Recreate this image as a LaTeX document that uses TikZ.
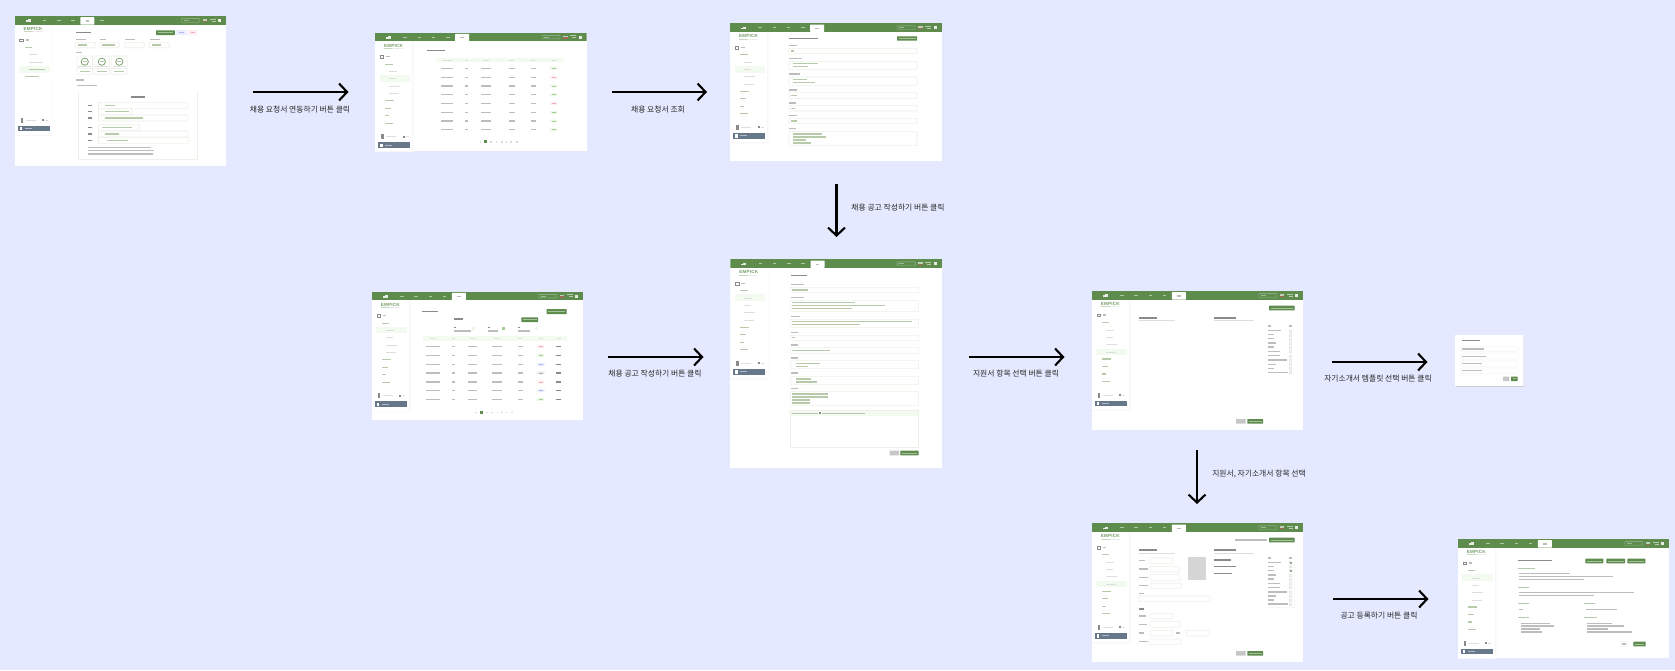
\documentclass[tikz,border=0pt]{standalone}
\usepackage{fontspec}
\setmainfont{Noto Sans CJK KR}
\newfontfamily\logofont[LetterSpace=5]{Liberation Sans}
\usetikzlibrary{arrows.meta}
\definecolor{pagebg}{HTML}{E5E9FF}
\definecolor{hdrgreen}{HTML}{5E8C4D}
\definecolor{txtgrey}{HTML}{BDBDBD}
\definecolor{txtdark}{HTML}{8A8A8A}
\definecolor{txtgreen}{HTML}{B7CBAB}
\definecolor{fieldline}{HTML}{EDF0E6}
\definecolor{activebg}{HTML}{F3FBF0}
\definecolor{darkbtn}{HTML}{66788A}
\definecolor{okfill}{HTML}{EAF9E6}\definecolor{oktxt}{HTML}{A3CF97}
\definecolor{pkfill}{HTML}{FFEDF0}\definecolor{pktxt}{HTML}{F0B0B9}
\definecolor{blfill}{HTML}{ECEEFF}\definecolor{bltxt}{HTML}{B0B6E8}
\definecolor{gyfill}{HTML}{EBEBEB}\definecolor{gytxt}{HTML}{ABABAB}
\tikzset{
  screenbox/.style={fill=white,draw=none,inner sep=0pt,outer sep=0pt,anchor=north west},
  fieldbox/.style={draw=fieldline,line width=0.6pt,fill=white,rounded corners=0.8pt},
  greenbtn/.style={fill=hdrgreen,draw=none,rounded corners=0.4pt},
  greybtn/.style={fill=black!22,draw=none,rounded corners=0.4pt},
  flowarrow/.style={draw=black,line width=2.1pt,-{Straight Barb[length=8pt,width=17pt,line width=2.1pt]}},
  flowlabel/.style={font=\fontsize{7.8pt}{9pt}\selectfont,text=black!85,inner sep=0pt},
}
\newif\ifshortmenu
% text stand-ins: illegibly small interface text is shown as thin strokes
\newcommand{\tb}[3]{\fill[txtgrey] (#1,#2-0.55) rectangle (#3,#2+0.55);}
\newcommand{\td}[3]{\fill[txtdark] (#1,#2-0.7) rectangle (#3,#2+0.7);}
\newcommand{\tg}[3]{\fill[txtgreen] (#1,#2-0.55) rectangle (#3,#2+0.55);}
\newcommand{\tl}[3]{\fill[black!13] (#1,#2-0.5) rectangle (#3,#2+0.5);}
\newcommand{\field}[4]{\draw[fieldbox] (#1,#2) rectangle (#3,#4);}
\newcommand{\gbtn}[4]{\fill[greenbtn] (#1,#2) rectangle (#3,#4);\fill[white,opacity=.45] (#1+1.5,0.5*#2+0.5*#4-0.4) rectangle (#3-1.5,0.5*#2+0.5*#4+0.4);}
\newcommand{\gybtn}[4]{\fill[greybtn] (#1,#2) rectangle (#3,#4);}
\newcommand{\pill}[4]{\fill[#3,rounded corners=0.5pt] (#1-3.8,#2-1.4) rectangle (#1+3.8,#2+1.4);\fill[#4] (#1-2,#2-0.5) rectangle (#1+2,#2+0.5);}
\newcommand{\cell}[3]{\fill[txtgrey] (#1-#3,#2-0.6) rectangle (#1+#3,#2+0.6);}
\newcommand{\pager}[2]{%
  \foreach \px in {#2}{\fill[black!15] (\px-0.8,#1-0.8) rectangle (\px+0.8,#1+0.8);}}
% #1 name #2 x #3 y #4 w #5 h #6 active tab #7 active row y #8 content
\newcommand{\appscreen}[8]{%
  \node[screenbox,minimum width=#4pt,minimum height=#5pt] (#1) at (#2,#3) {};
  \begin{scope}[shift={(#2,#3)}]
    \clip (0,0) rectangle (#4,#5);
    \pgfmathsetmacro{\sbh}{min(119,#5)}
    \fill[black!1.5] (0,8.5) rectangle (38.8,\sbh+1.2);
    \fill[black!3] (0,8.5) rectangle (37.9,\sbh+0.5);
    \fill[white] (0,8.5) rectangle (37.2,\sbh);
    \fill[hdrgreen] (0,0) rectangle (#4,8.5);
    \fill[white,opacity=.85] (11,3.2) rectangle (16,5.8);
    \fill[hdrgreen] (11,3.2) rectangle (13,4.4);
    \foreach \i in {1,...,5}{
      \pgfmathsetmacro{\tx}{30+(\i-1)*14.3}
      \fill[white,opacity=.5] (\tx-1.8,3.9) rectangle (\tx+1.8,5);
    }
    \pgfmathsetmacro{\atx}{30+(#6-1)*14.3}
    \fill[white,rounded corners=0.5pt] (\atx-7,1.2) rectangle (\atx+7,8.6);
    \fill[txtgrey] (\atx-1.8,4.4) rectangle (\atx+1.8,5.5);
    \draw[white,opacity=.4,line width=.4pt,rounded corners=.5pt] (167,2.6) rectangle (185,6.2);
    \fill[white,opacity=.4] (169,3.9) rectangle (174,4.9);
    \fill[white,opacity=.6] (188,3) rectangle (192.5,6);
    \fill[red!55!black,opacity=.5] (188,4.5) rectangle (192.5,6);
    \fill[white,opacity=.55] (195,2.6) rectangle (201,3.6);
    \fill[white,opacity=.55] (197,4.6) rectangle (201,5.6);
    \fill[white,opacity=.85] (203.5,2.8) rectangle (206.5,5.8);
    \node[font=\logofont\bfseries\fontsize{4.5pt}{5pt}\selectfont,text=hdrgreen!85,inner sep=0pt] (#1logo) at (18.5,12.8) {EMPICK};
    \fill[hdrgreen!35] (9,15.4) rectangle (18,16.1);
    \fill[black!8] (18.5,15.4) rectangle (28,16.1);
    \fill[activebg] (4.5,#7-3.4) rectangle (35,#7+3.4);
    \draw[txtdark,line width=.4pt] (5,22.8) rectangle (8.4,25.4);
    \tb{11}{24}{14.5}
    \ifshortmenu
      \tg{10}{31.3}{17.5}
      \tl{14}{38.7}{22}\tl{14}{46}{28}
      \tg{14}{53.3}{30}
      \tg{10}{60.7}{24}
    \else
      \tg{10}{31.5}{17.5}
      \foreach \y/\e in {39/22,46/21,53.5/25,61/24}{\tl{14}{\y}{\e}}
      \foreach \y/\e in {68/19,75.5/16,83/14,90.5/18}{\tg{10}{\y}{\e}}
    \fi
    \fill[txtdark] (6,101.5) rectangle (8.5,106.5);
    \tl{11}{104}{21}
    \fill[txtdark] (27.5,103) rectangle (29.5,105);
    \tl{30.5}{104}{33.5}
    \fill[darkbtn] (3,109.6) rectangle (35,115.4);
    \fill[white] (5,110.8) rectangle (7.5,114.2);
    \fill[white,opacity=.5] (10,112) rectangle (17,113);
    #8
  \end{scope}
}
\begin{document}
\begin{tikzpicture}[x=1pt,y=-1pt]
\useasboundingbox (0,0) rectangle (1675,670);
\fill[pagebg] (0,0) rectangle (1675,670);

%------- screen 1
\shortmenutrue
\appscreen{sa}{14.5}{16}{211.5}{150}{4}{53.4}{
  \td{61}{16.3}{76}
  \gbtn{141.7}{14.3}{160.3}{19}
  \fill[blfill] (161.3,14.3) rectangle (172,19); \fill[bltxt] (164,16.2) rectangle (169,17.1);
  \fill[pkfill] (173.3,14.3) rectangle (182.7,19); \fill[pktxt] (176,16.2) rectangle (180,17.1);
  \tb{61}{23.7}{71}\tb{85.3}{23.7}{91}\tb{110.3}{23.7}{120}\tb{135}{23.7}{145}
  \field{60.7}{26.3}{80.7}{31.7}\field{85.3}{26.3}{104.7}{31.7}\field{110.3}{26.3}{129.7}{31.7}\field{134.7}{26.3}{154.7}{31.7}
  \tg{63}{29}{72}\tg{87.5}{29}{100}\tg{137}{29}{146}
  \tb{61}{36.7}{67}
  \foreach \cx in {70.3,87.3,104.8}{
    \draw[fieldbox] (\cx-7.7,40) rectangle (\cx+7.7,58.3);
    \draw[fieldline] (\cx-7.7,52.4) -- (\cx+7.7,52.4);
    \draw[hdrgreen!80,line width=.8pt] (\cx,45.7) circle (3.6);
    \tg{\cx-2}{45.7}{\cx+2}
    \tl{\cx-6.5}{50.8}{\cx+6.5}
    \tg{\cx-5}{55.5}{\cx+5}
  }
  \tb{61}{64}{69}
  \tb{62}{69.7}{82}
  \draw[fieldline,line width=.8pt] (64,76) -- (64,143.3) -- (182.7,143.3) -- (182.7,76);
  \td{116.5}{81}{130.5}
  \foreach \y/\e in {89.3/173.3,95.7/117,102/173.3,111.7/124.7,118/173.3,124.3/174.3}{
    \field{84}{\y-3}{\e}{\y+3}
    \td{73}{\y}{77}
  }
  \tg{90}{89.3}{100}\tg{90}{95.7}{114}\tg{90}{102}{128}\tg{87}{111.7}{117}\tg{90}{118}{104}\tg{92}{124.3}{113}
  \tb{73}{131.7}{136}\tb{73}{134.7}{139}\tb{73}{138}{138}
}
\shortmenufalse
%------- screen 2
\appscreen{sb}{375}{32.7}{211.7}{118.6}{5}{46}{
  \td{51.7}{18}{70}
  \fill[activebg] (60.7,25) rectangle (189,29.7);
  \foreach \cx/\wd in {71.7/5,91.7/1.5,110.7/3,136.7/2.5,158.3/2,178.7/2}{\tl{\cx-\wd}{27.3}{\cx+\wd}}
  \foreach \y/\c/\d in {35.7/okfill/oktxt,44.7/pkfill/pktxt,53.3/okfill/oktxt,62/okfill/oktxt,70.7/pkfill/pktxt,79.7/okfill/oktxt,88.3/okfill/oktxt,97/okfill/oktxt}{
    \cell{71.7}{\y}{6}\cell{91.7}{\y}{1.3}\cell{110.7}{\y}{5}\cell{136.7}{\y}{2.8}\cell{158.3}{\y}{2.4}
    \pill{178.7}{\y}{\c}{\d}
  }
  \pager{109}{105.3,116,121.3,126.7,131.3,136,141.7}
  \fill[hdrgreen] (109.2,107.4) rectangle (112.2,110.6);
}
%------- screen 3
\appscreen{sc}{730}{23.3}{212}{137.4}{5}{46}{
  \td{59}{15}{88}
  \gbtn{167}{13}{187}{17.3}
  \foreach \y/\e in {22/67,35/72,50.7/70,66.7/67,79.7/66,92.3/67,105/66}{\tb{59}{\y}{\e}}
  \field{59}{25}{187}{30.3}\field{59}{38}{187}{46.3}\field{59}{53.7}{187}{62}\field{59}{69.3}{187}{75}\field{59}{82}{187}{87.7}\field{59}{95}{187}{100.3}\field{59}{108}{187}{122.3}
  \tg{61}{27.7}{64}
  \tg{63}{40.3}{88}\tg{63}{43.3}{78}
  \tg{63}{56.3}{77}\tg{63}{59}{85}
  \tg{61}{72.2}{67}\tg{61}{84.8}{65}\tg{61}{97.7}{67}
  \tg{63}{110.7}{92}\tg{63}{113.7}{96}\tg{63}{116.7}{76}\tg{63}{119.7}{81}
}
%------- screen 4
\appscreen{sd}{371.7}{291.7}{211.3}{128.3}{5}{38.3}{
  \td{50}{19.7}{66.7}
  \gbtn{175}{17.3}{195}{22.3}
  \td{82.7}{27.3}{91.7}
  \gbtn{149.7}{25.7}{166.3}{30.3}
  \foreach \xa/\xb/\xc/\ic in {82.7/99/101.7/okfill,116/126/131.7/oktxt,146.3/158/164.3/okfill}{
    \td{\xa}{35.7}{\xa+2}
    \tb{\xa}{39.3}{\xb}
    \fill[\ic] (\xc-1.5,35.2) rectangle (\xc+1.5,38.2);
  }
  \fill[activebg] (51,44.3) rectangle (195.7,49);
  \foreach \cx/\wd in {61.7/3,81.7/1.5,101/3,125/3,148.7/2,169/2,187/2}{\tl{\cx-\wd}{46.7}{\cx+\wd}}
  \foreach \y/\c/\d in {55/pkfill/pktxt,63.7/okfill/oktxt,72.7/blfill/bltxt,81.3/gyfill/gytxt,90.3/pkfill/pktxt,99/blfill/bltxt,107.7/okfill/oktxt}{
    \cell{61.7}{\y}{7}\cell{81.7}{\y}{1.4}\cell{101}{\y}{4.5}\cell{125}{\y}{5}\cell{148.7}{\y}{2.8}
    \pill{169}{\y}{\c}{\d}
    \fill[txtdark] (184.5,\y-0.6) rectangle (189.5,\y+0.6);
  }
  \pager{120.7}{104,115,120.3,125.7,130,134.7,140.3}
  \fill[hdrgreen] (108.2,119.1) rectangle (111.2,122.3);
}
%------- screen 5
\appscreen{se}{730.3}{259.3}{211.7}{208.4}{5}{38.5}{
  \td{60.3}{16}{76.3}
  \foreach \y/\e in {25/74,38/74,57/70,73/68,85.7/68,98.7/68,113.7/68,129.3/68}{\tb{60.3}{\y}{\e}}
  \field{60.3}{28}{188.3}{33.3}\field{60.3}{41}{188.3}{52.3}\field{60.3}{60}{188.3}{68}\field{60.3}{76}{188.3}{81.3}\field{60.3}{88.3}{188.3}{94}\field{60.3}{101}{188.3}{109.3}\field{60.3}{117}{188.3}{125.3}\field{60.3}{132}{188.3}{146.3}
  \tg{62}{30.7}{78}
  \tg{62}{43.3}{125}\tg{62}{46.3}{155}\tg{62}{49.3}{122}
  \tg{62}{62.3}{182}\tg{62}{65.3}{130}
  \tg{62}{78.6}{65}\tg{62}{91.2}{100}
  \tg{66}{104}{90}\tg{66}{107}{78}
  \tg{66}{119.7}{81}\tg{66}{122.7}{87}
  \tg{62}{134.7}{98}\tg{62}{137.7}{98}\tg{62}{140.7}{80}\tg{62}{143.7}{80}
  \draw[fieldbox,rounded corners=0pt] (60.3,151) rectangle (188.3,188.3);
  \fill[activebg] (60.6,151.3) rectangle (188,156.3);
  \tb{61.5}{153.8}{88}\td{89}{153.8}{91}\tb{92}{153.8}{135}
  \gybtn{159.3}{191.3}{168.7}{196}
  \gbtn{170}{191.3}{188.3}{196}
}
%------- screen 6
\appscreen{sf}{1091.7}{291}{211.3}{138.7}{5}{61}{
  \gbtn{177.3}{14.7}{203}{19.3}
  \td{47.3}{27}{65.3}\tl{47.3}{29.7}{83}
  \td{122.3}{27}{144.3}\tl{122.3}{29.7}{162}
  \tb{176.3}{35}{179.3}\tb{197.3}{35}{200.7}
  \foreach \y/\e in {39.7/189,43.7/182,47.7/182,52/184,56/182,60.3/188,64.7/188,69/195,73.3/184,77.3/182,81.3/196}{
    \tb{176.3}{\y}{\e}
    \draw[black!10,line width=.4pt] (197.8,\y-1) rectangle (199.8,\y+1);
  }
  \gybtn{144.3}{128}{154}{132.7}
  \gbtn{155.7}{128}{171.3}{132.7}
}
%------- screen 7
\appscreen{sg}{1091.7}{523.3}{211.3}{138.7}{5}{60.7}{
  \tb{143.3}{16.7}{175}
  \gbtn{177.3}{14.3}{203}{19}
  \td{47.3}{26.7}{65.3}\tl{47.3}{29.7}{83}
  \td{122.3}{26.7}{144.3}\tl{122.3}{29.7}{162}
  \field{58.3}{34.7}{81}{40.3}\tb{47.3}{37.3}{53}
  \field{58.3}{43}{88}{48.7}\tb{47.3}{45.7}{56}
  \field{58.3}{51.3}{88}{57}\tb{47.3}{54}{56}
  \field{58.3}{59.7}{90}{65.3}\tb{47.3}{62.3}{56}
  \tb{47.3}{70}{52}
  \field{47.3}{72.7}{118.3}{78.3}
  \fill[black!16] (96.7,34) rectangle (114,57);
  \td{47.3}{85.7}{52.5}
  \tb{47.3}{92.7}{54}\field{58.3}{90}{81}{95.7}
  \tb{47.3}{101}{55}\field{58.3}{98.3}{88}{104}
  \tb{47.3}{109.7}{52}\field{58.3}{107}{81}{112.7}\tb{84}{109.7}{88}\field{94.7}{107}{117.7}{112.7}
  \tb{47.3}{118.3}{56}\field{57.7}{115.7}{89}{121.3}
  \td{122.3}{36.7}{139.3}\td{122.3}{43.3}{144}\td{122.3}{50}{140}
  \fill[black!3] (175,31.7) rectangle (203.3,84.8);
  \fill[white] (175.4,32) rectangle (202.7,84);
  \tb{176.3}{34.7}{179.3}\tb{197.3}{34.7}{200.7}
  \foreach \y/\e in {39.3/189,43.3/182,47.3/182,51.7/184,55.7/182,60/188,64.3/188,68.7/195,72.7/184,76.7/182,80.7/196}{
    \tb{176.3}{\y}{\e}
    \draw[black!10,line width=.4pt] (197.8,\y-1) rectangle (199.8,\y+1);
  }
  \fill[hdrgreen!70] (197.8,38.3) rectangle (199.8,40.3);
  \fill[hdrgreen!70] (197.8,46.3) rectangle (199.8,48.3);
  \gybtn{144.3}{127.7}{154}{132.3}
  \gbtn{155.7}{127.7}{171.3}{132.3}
}
%------- screen 8
\appscreen{sh}{1457.7}{539}{211.3}{119}{5}{38.3}{
  \td{60}{21.7}{94}
  \gbtn{127.7}{19.7}{145.7}{24.3}\gbtn{148.7}{19.7}{167.3}{24.3}\gbtn{169.7}{19.7}{187.7}{24.3}
  \tg{60.5}{29.3}{77}
  \tb{61}{34.3}{112}\tb{61}{37.3}{155}\tb{61}{40.3}{126}
  \tg{60.5}{48.3}{71}
  \tb{61}{53.7}{176}\tb{61}{56.7}{136}
  \tg{60.5}{64.3}{71}\tg{126.3}{64.3}{137}
  \tb{61}{70.3}{65}\tb{128}{70.3}{159}
  \tg{60.5}{78.3}{71}\tg{126.3}{78.3}{139}
  \tb{63.5}{84.3}{92}\tb{63.5}{87}{96}\tb{63.5}{90}{82}\tb{63.5}{93}{84}
  \tb{129.5}{84.3}{154}\tb{129.5}{87}{166}\tb{129.5}{90}{150}\tb{129.5}{93}{174}
  \draw[fieldbox] (162.3,102.7) rectangle (170,107.3);\tb{164.5}{105}{168}
  \gbtn{175.7}{102.7}{188}{107.3}
}
%------- modal
\fill[black!22] (1455.6,336) rectangle (1524.3,387);
\node[screenbox,minimum width=68.7pt,minimum height=51pt,rounded corners=.6pt] (modal) at (1455,335) {};
\td{1462.3}{340.7}{1480.3}
\foreach \y/\e in {349/1484,356.3/1486,363.7/1482,370.7/1482}{
  \draw[fieldbox,draw=black!4,rounded corners=1.5pt] (1460.3,\y-2.7) rectangle (1518.3,\y+2.7);
  \tb{1462}{\y}{\e}
}
\gybtn{1503}{376.7}{1509.3}{381}
\gbtn{1511}{376.7}{1517.7}{381}

%------- connectors
\coordinate (a1s) at (253,92);\coordinate (a1e) at (348.5,92);
\coordinate (a2s) at (611.7,92);\coordinate (a2e) at (707,92);
\coordinate (a3s) at (836.5,184);\coordinate (a3e) at (836.5,237);
\coordinate (a4s) at (608,357);\coordinate (a4e) at (703.5,357);
\coordinate (a5s) at (969,357);\coordinate (a5e) at (1064.5,357);
\coordinate (a6s) at (1332,362);\coordinate (a6e) at (1427.5,362);
\coordinate (a7s) at (1197,450);\coordinate (a7e) at (1197,504);
\coordinate (a8s) at (1333,599);\coordinate (a8e) at (1428.5,599);
\foreach \a in {a1,a2,a3,a4,a5,a6,a7,a8}{\draw[flowarrow] (\a s) -- (\a e);}

\node[flowlabel] (l1) at (300,110) {채용 요청서 연동하기 버튼 클릭};
\node[flowlabel] (l2) at (658,110) {채용 요청서 조회};
\node[flowlabel] (l3) at (898,208) {채용 공고 작성하기 버튼 클릭};
\node[flowlabel] (l4) at (655,374) {채용 공고 작성하기 버튼 클릭};
\node[flowlabel] (l5) at (1016,374) {지원서 항목 선택 버튼 클릭};
\node[flowlabel] (l6) at (1378,379) {자기소개서 템플릿 선택 버튼 클릭};
\node[flowlabel] (l7) at (1259,474) {지원서, 자기소개서 항목 선택};
\node[flowlabel] (l8) at (1379,616) {공고 등록하기 버튼 클릭};
\end{tikzpicture}
\end{document}
